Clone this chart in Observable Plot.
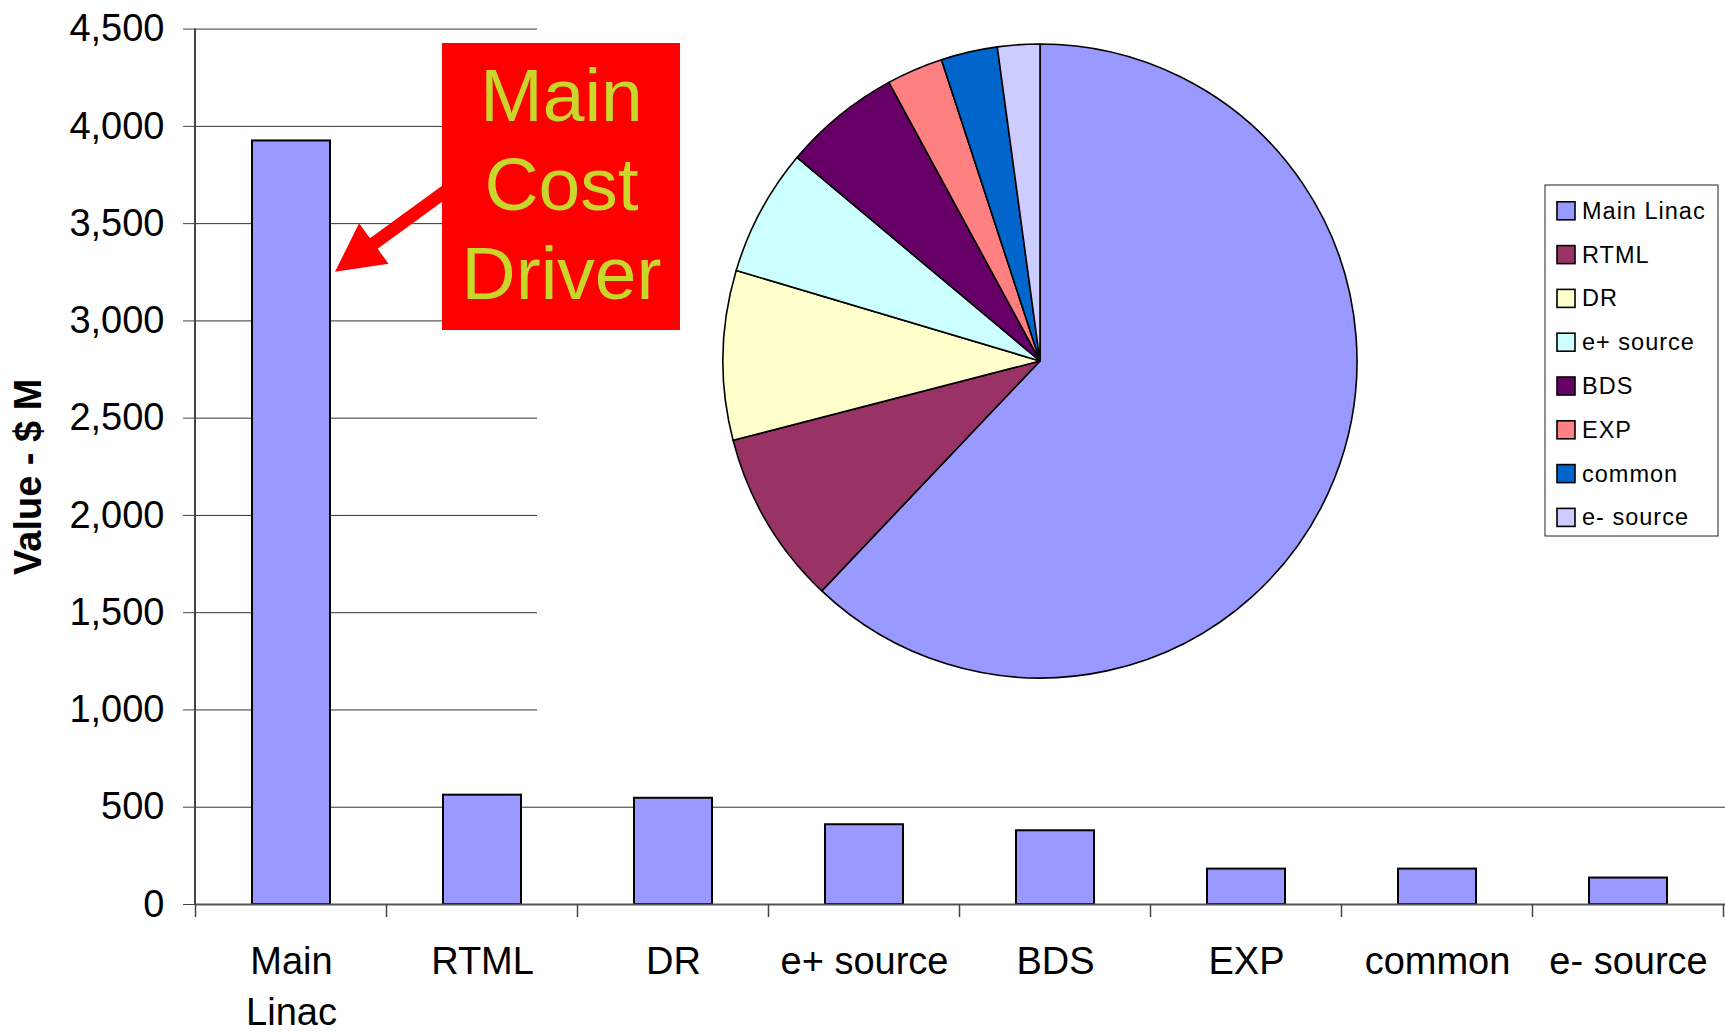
<!DOCTYPE html>
<html>
<head>
<meta charset="utf-8">
<script src="https://cdn.jsdelivr.net/npm/d3@7"></script>
<script src="https://cdn.jsdelivr.net/npm/@observablehq/plot@0.6"></script>
<style>
  html, body { margin: 0; padding: 0; background: #fff; }
  #chart { width: 1725px; height: 1034px; }
</style>
</head>
<body>
<div id="chart"></div>
<script>
// ---------------- DATA ----------------
const categories = ["Main Linac", "RTML", "DR", "e+ source", "BDS", "EXP", "common", "e- source"];
const values = [3925, 562, 546, 410, 379, 182, 182, 136];
const pieColors = ["#9999FF", "#993366", "#FFFFCC", "#CCFFFF", "#660066", "#FF8080", "#0066CC", "#CCCCFF"];
const yTicks = [0, 500, 1000, 1500, 2000, 2500, 3000, 3500, 4000, 4500];
const yLabel = "Value - $ M";
const annotationLines = ["Main", "Cost", "Driver"];
const arrowTipValue = 3250;

const rows = categories.map((c, i) => ({category: c, value: values[i], color: pieColors[i]}));

// ---------------- LAYOUT ----------------
const W = 1725, H = 1034;
const FONT = "'Liberation Sans', Arial, Helvetica, sans-serif";
const L = {
  maskX: 537, maskBottom: 765,
  pieCx: 1040, pieCy: 361, pieR: 317,
  legend: {x: 1545, y: 185, w: 173, h: 351, sw: 18, swX: 1557, textX: 1582, firstY: 210.8, step: 43.8, fontSize: 23.5, baseOff: 8},
  box: {x: 442, y: 43, w: 238, h: 287, cx: 561.5, baselines: [121, 210, 299], fontSize: 75},
  arrow: {tailX: 450, tailY: 188, shaft: 13, headLen: 48, headW: 50, tipGap: 5}
};

// mask + pie + legend
function pieMark(index, scales, vals, dims) {
  const g = d3.create("svg:g");
  g.append("rect").attr("x", L.maskX).attr("y", 0)
    .attr("width", W - L.maskX).attr("height", L.maskBottom).attr("fill", "white");
  const arcs = d3.pie().sort(null).value(d => d.value)(rows);
  const arc = d3.arc().innerRadius(0).outerRadius(L.pieR);
  g.append("g").attr("transform", `translate(${L.pieCx},${L.pieCy})`)
    .selectAll("path").data(arcs).join("path")
    .attr("d", arc).attr("fill", d => d.data.color)
    .attr("stroke", "black").attr("stroke-width", 1.6).attr("stroke-linejoin", "round");
  const lg = L.legend;
  g.append("rect").attr("x", lg.x).attr("y", lg.y).attr("width", lg.w).attr("height", lg.h)
    .attr("fill", "white").attr("stroke", "#222").attr("stroke-width", 1);
  const items = g.append("g").selectAll("g").data(rows).join("g")
    .attr("transform", (d, i) => `translate(0,${lg.firstY + i * lg.step})`);
  items.append("rect").attr("x", lg.swX).attr("y", -lg.sw / 2).attr("width", lg.sw).attr("height", lg.sw)
    .attr("fill", d => d.color).attr("stroke", "black").attr("stroke-width", 1.6);
  items.append("text").attr("x", lg.textX).attr("y", lg.baseOff)
    .attr("text-anchor", "start")
    .attr("font-size", lg.fontSize).attr("font-family", FONT).attr("letter-spacing", 1)
    .attr("fill", "black").text(d => d.category);
  return g.node();
}

// y axis line + category boundary ticks
function axisDecor(index, scales, vals, dims) {
  const {x, y} = scales;
  const g = d3.create("svg:g");
  const bw = typeof x.bandwidth === "function" ? x.bandwidth() : 0;
  const step = x(categories[1]) - x(categories[0]);
  const left = dims.marginLeft;
  g.append("line").attr("x1", left).attr("x2", left).attr("y1", y(4500)).attr("y2", y(0))
    .attr("stroke", "#444").attr("stroke-width", 2);
  const bounds = categories.map(c => x(c) + bw / 2 - step / 2);
  bounds.push(x(categories[categories.length - 1]) + bw / 2 + step / 2);
  g.selectAll("line.t").data(bounds).join("line").attr("class", "t")
    .attr("x1", d => d).attr("x2", d => d).attr("y1", y(0)).attr("y2", y(0) + 13)
    .attr("stroke", "#444").attr("stroke-width", 1.5);
  return g.node();
}

// annotation box and arrow
function annotationMark(index, scales, vals, dims) {
  const {x, y} = scales;
  const g = d3.create("svg:g");
  const b = L.box;
  const bw = typeof x.bandwidth === "function" ? x.bandwidth() : 0;
  const tipX = x(categories[0]) + bw + L.arrow.tipGap, tipY = y(arrowTipValue);
  const tx = L.arrow.tailX, ty = L.arrow.tailY;
  const len = Math.hypot(tipX - tx, tipY - ty);
  const ux = (tipX - tx) / len, uy = (tipY - ty) / len;
  const px = -uy, py = ux;
  const hs = L.arrow.shaft / 2, hl = L.arrow.headLen, hw = L.arrow.headW / 2;
  const bx = tipX - ux * hl, by = tipY - uy * hl;
  const pts = [
    [tx + px * hs, ty + py * hs], [bx + px * hs, by + py * hs], [bx + px * hw, by + py * hw],
    [tipX, tipY], [bx - px * hw, by - py * hw], [bx - px * hs, by - py * hs], [tx - px * hs, ty - py * hs]
  ];
  g.append("path").attr("d", "M" + pts.map(p => p.join(",")).join("L") + "Z").attr("fill", "#FF0000");
  g.append("rect").attr("x", b.x).attr("y", b.y).attr("width", b.w).attr("height", b.h).attr("fill", "#FF0000");
  g.selectAll("text").data(annotationLines).join("text")
    .attr("x", b.cx).attr("y", (d, i) => b.baselines[i]).attr("text-anchor", "middle")
    .attr("font-size", b.fontSize).attr("font-family", FONT).attr("fill", "#C9D72B").text(d => d);
  return g.node();
}

const chart = Plot.plot({
  width: W, height: H,
  marginLeft: 195, marginRight: 0, marginTop: 28.6, marginBottom: 130,
  style: {fontFamily: FONT, background: "white", color: "black", overflow: "visible"},
  x: {domain: categories, paddingInner: 0.59, paddingOuter: 0.295},
  y: {domain: [0, 4500]},
  marks: [
    Plot.gridY(yTicks, {stroke: "#333", strokeOpacity: 1, strokeWidth: 1}),
    pieMark,
    Plot.barY(rows, {x: "category", y: "value", fill: "#9999FF", stroke: "black", strokeWidth: 2}),
    Plot.ruleY([0], {stroke: "#555", strokeWidth: 2}),
    axisDecor,
    Plot.axisY(yTicks, {tickSize: 12, tickPadding: 19, fontSize: 38, tickFormat: d3.format(","), label: null, stroke: "#444"}),
    Plot.axisX({tickSize: 0, tickPadding: 33, fontSize: 38, lineHeight: 1.34, label: null,
      tickFormat: d => d === "Main Linac" ? "Main\nLinac" : d}),
    Plot.text([yLabel], {frameAnchor: "left", textAnchor: "middle", rotate: -90, dx: -166.5, dy: 10, fontSize: 38, fontWeight: "bold", fill: "black"}),
    annotationMark
  ]
});
document.getElementById("chart").appendChild(chart);
</script>
</body>
</html>
